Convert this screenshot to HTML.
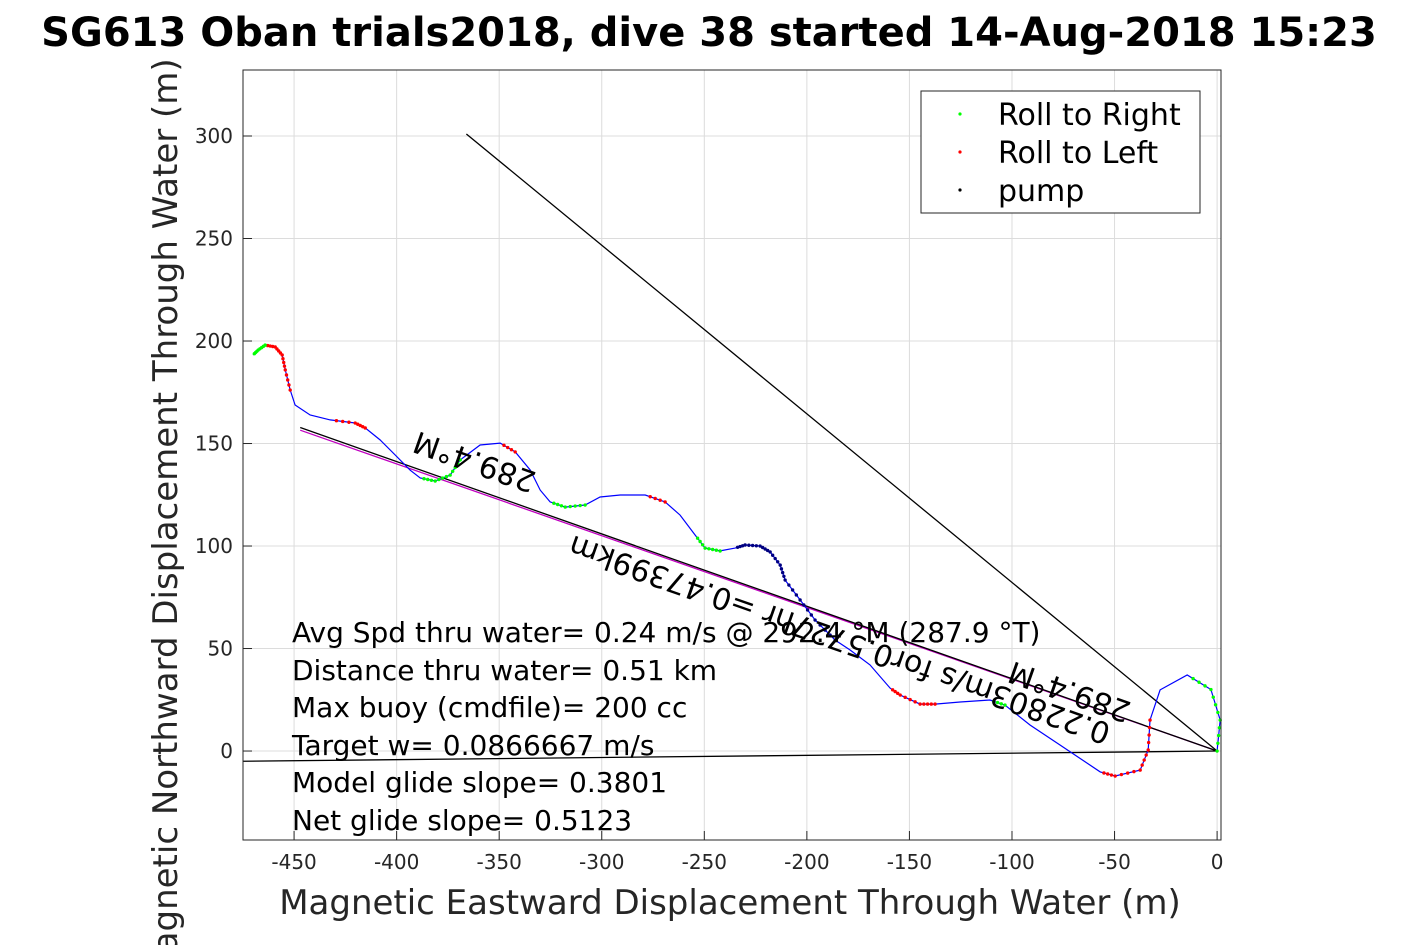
<!DOCTYPE html>
<html><head><meta charset="utf-8"><style>
html,body{margin:0;padding:0;background:#fff;overflow:hidden}
svg{display:block;font-family:"DejaVu Sans","Liberation Sans",sans-serif}
</style></head><body>
<svg id="chart" width="1417" height="945" viewBox="0 0 1417 945" xmlns="http://www.w3.org/2000/svg">
<text x="709" y="46" text-anchor="middle" font-size="40" font-weight="bold">SG613 Oban trials2018, dive 38 started 14-Aug-2018 15:23</text>
<rect x="243" y="70" width="978" height="770" fill="#fff" stroke="none"/>
<g id="grid"></g>
<g id="lines"></g>
<g id="track"></g>
<g id="dots"></g>
<g id="ticks"></g>
<rect x="243" y="70" width="978" height="770" fill="none" stroke="#262626" stroke-width="1"/>
<g font-size="30" fill="#000">
<text transform="translate(475,460) rotate(199.4)" text-anchor="middle" dominant-baseline="middle">289.4°M</text>
<text transform="translate(840,638) rotate(199.4)" text-anchor="middle" dominant-baseline="middle">0.22803m/s for0.5727hr =0.47399km</text>
<text transform="translate(1070,690) rotate(199.4)" text-anchor="middle" dominant-baseline="middle">289.4°M</text>
</g>
<g font-size="28" fill="#000">
<text x="292" y="642">Avg Spd thru water=  0.24 m/s @ 292.4 °M (287.9 °T)</text>
<text x="292" y="680">Distance thru water=  0.51 km</text>
<text x="292" y="717">Max buoy (cmdfile)= 200 cc</text>
<text x="292" y="755">Target w= 0.0866667 m/s</text>
<text x="292" y="792">Model glide slope= 0.3801</text>
<text x="292" y="830">Net glide slope= 0.5123</text>
</g>
<g>
<rect x="921" y="91" width="279" height="122" fill="#fff" stroke="#262626" stroke-width="1"/>
<circle cx="960" cy="114" r="1.6" fill="#00ff00"/>
<text x="998" y="125" font-size="30">Roll to Right</text>
<circle cx="960" cy="152" r="1.6" fill="#ff0000"/>
<text x="998" y="163" font-size="30">Roll to Left</text>
<circle cx="960" cy="190" r="1.6" fill="#000"/>
<text x="998" y="201" font-size="30">pump</text>
</g>
<text x="730" y="914" text-anchor="middle" font-size="34" fill="#262626">Magnetic Eastward Displacement Through Water (m)</text>
<text transform="translate(177,520) rotate(-90)" text-anchor="middle" font-size="34" fill="#262626">Magnetic Northward Displacement Through Water (m)</text>
</svg>
<script>
const xTicks=[-450,-400,-350,-300,-250,-200,-150,-100,-50,0];
const yTicks=[0,50,100,150,200,250,300];
const trackX=[0,1.5,-3,-14.6,-27.8,-32.7,-33.6,-37.5,-49.7,-57,-76.5,-91.2,-103.4,-110.7,-125.3,-137.5,-144.8,-154.5,-159.4,-169.2,-178.9,-186.2,-196,-203.3,-210.6,-213,-217.9,-222.8,-230.1,-235,-242.3,-249.6,-254.5,-261.8,-269.1,-278.8,-291,-300.8,-308.1,-317.8,-325.2,-330,-334.9,-342.2,-349.5,-359.3,-369,-373.9,-381.2,-388.5,-393.4,-400.7,-408,-415.3,-420.2,-432.4,-442.2,-449.5,-451.9,-454.3,-455.8,-459.2,-464.1,-467.5,-470];
const trackY=[0,15.1,30,37.1,29.8,15.1,0.5,-9.3,-12.2,-10.2,2.9,12.7,22.4,24.9,23.9,22.9,22.9,27.3,30.7,42,49.3,54.1,63.9,73.7,83.4,90.7,97.1,100,100.5,99,97.6,99,105.4,115.1,121.5,124.9,124.9,123.9,120,119,121.5,127.3,137.1,145.9,150.2,149.3,142,134.6,131.7,133.2,137,144.4,151.7,157.6,160,161.5,163.9,168.8,176.1,185.9,193.2,197.1,198,195.6,193.2];
const segStart=[0,5,12,15,21,30,34,38,43,46,53,58,62];
const segEnd=[3,9,13,18,29,32,35,40,44,49,55,62,64];
const segType=["right","left","right","left","pump","right","left","right","left","right","left","left","right"];
const refLinesX=[[0,-447],[0,-447],[0,-366],[0,-475]];
const refLinesY=[[0,156.5],[0,157.8],[0,301],[0,-5]];
const refColors=["#c000c0","#000","#000","#000"];
const xMin=-474.9,xMax=1.9,yMin=-43.4,yMax=332.2;
const L=243,R=1221,T=70,B=840;
const sx=v=>L+(v-xMin)/(xMax-xMin)*(R-L);
const sy=v=>B-(v-yMin)/(yMax-yMin)*(B-T);
const NS="http://www.w3.org/2000/svg";
function mk(tag,parent,attrs){const e=document.createElementNS(NS,tag);for(const k in attrs)e.setAttribute(k,attrs[k]);document.getElementById(parent).appendChild(e);return e;}
xTicks.forEach(t=>{
 const g=mk("line","grid",{x1:sx(t),x2:sx(t),y1:T,y2:B,stroke:"#dcdcdc","stroke-width":1});
 
 
 const k=mk("line","ticks",{x1:sx(t),x2:sx(t),y1:B,y2:B-9,stroke:"#262626"});
 
 
 const l=mk("text","ticks",{x:sx(t),y:B+29,"text-anchor":"middle","font-size":20,fill:"#262626"});
 l.textContent=t;
 
 
});
yTicks.forEach(t=>{
 const g=mk("line","grid",{x1:L,x2:R,y1:sy(t),y2:sy(t),stroke:"#dcdcdc","stroke-width":1});
 
 
 const k=mk("line","ticks",{x1:L,x2:L+9,y1:sy(t),y2:sy(t),stroke:"#262626"});
 
 
 const l=mk("text","ticks",{x:L-10,y:sy(t)+7,"text-anchor":"end","font-size":20,fill:"#262626"});
 l.textContent=t;
 
 
});
refLinesX.forEach((lx,i)=>{
 const e=mk("line","lines",{x1:sx(lx[0]),y1:sy(refLinesY[i][0]),x2:sx(lx[1]),y2:sy(refLinesY[i][1]),stroke:refColors[i],"stroke-width":1.3});
 
 
});
const pts=trackX.map((x,i)=>sx(x).toFixed(1)+","+sy(trackY[i]).toFixed(1)).join(" ");
const tr=mk("polyline","track",{points:pts,fill:"none",stroke:"#0000ff","stroke-width":1.2});


const cols={right:"#00ff00",left:"#ff0000",pump:"#000080"};
segStart.forEach((s,k)=>{
 for(let i=s;i<segEnd[k];i++){
  for(let j=0;j<4;j++){
   const f=j/4;
   const x=trackX[i]+(trackX[i+1]-trackX[i])*f, y=trackY[i]+(trackY[i+1]-trackY[i])*f;
   const c=mk("circle","dots",{cx:sx(x),cy:sy(y),r:1.7,fill:cols[segType[k]]});
   
   
  }
 }
});
</script>
</body></html>
